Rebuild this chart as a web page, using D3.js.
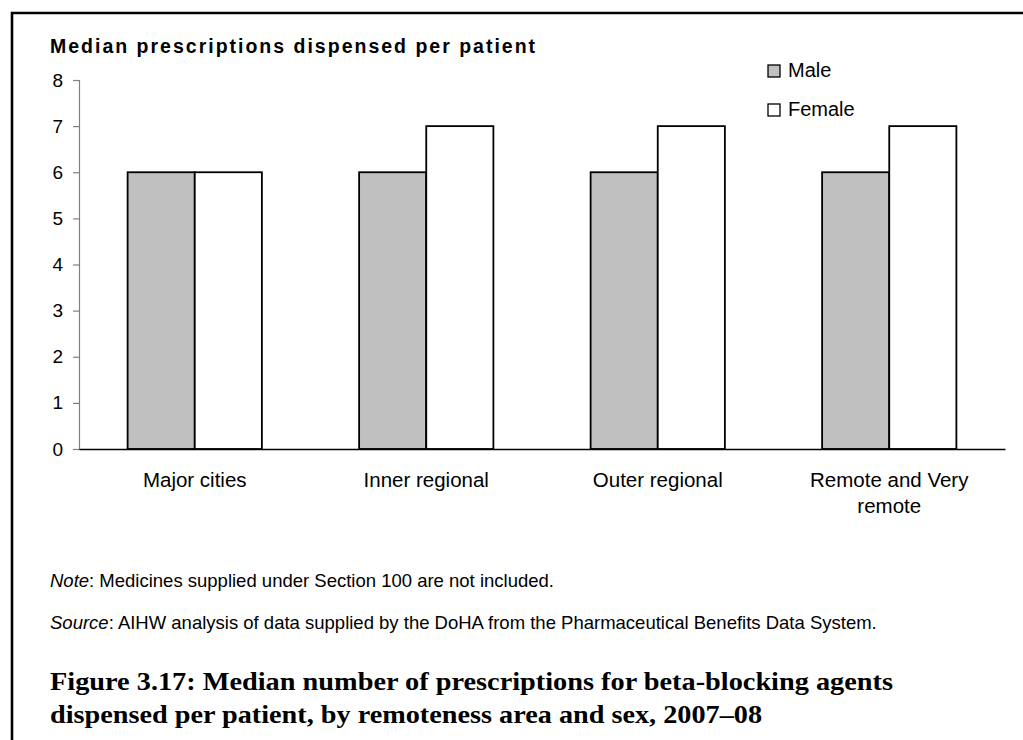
<!DOCTYPE html>
<html>
<head>
<meta charset="utf-8">
<script src="https://cdn.jsdelivr.net/npm/d3@7"></script>
<style>
  body { margin: 0; background: #fff; }
  svg { display: block; }
</style>
</head>
<body>
<svg width="1023" height="740"></svg>
<script>
const categories = ["Major cities", "Inner regional", "Outer regional", "Remote and Very remote"];
const seriesNames = ["Male", "Female"];
const maleValues = [6, 6, 6, 6];
const femaleValues = [6, 7, 7, 7];
const yTicks = [0, 1, 2, 3, 4, 5, 6, 7, 8];

const layout = {
  left: 79,
  right: 1005,
  top: 80,
  bottom: 449
};
const colors = { Male: "#c0c0c0", Female: "#ffffff" };
const sans = "Liberation Sans, Arial, sans-serif";

const svg = d3.select("svg");

// page frame (only top and left edges show)
svg.append("path")
  .attr("d", "M12,740 L12,13 L1023,13")
  .attr("fill", "none")
  .attr("stroke", "#000")
  .attr("stroke-width", 2.6);

const rows = categories.map((c, i) => ({ category: c, Male: maleValues[i], Female: femaleValues[i] }));

const x0 = d3.scaleBand()
  .domain(categories)
  .range([layout.left, layout.right])
  .paddingInner(0.42)
  .paddingOuter(0.21);

const x1 = d3.scaleBand()
  .domain(seriesNames)
  .range([0, x0.bandwidth()]);

const y = d3.scaleLinear()
  .domain([0, 8])
  .range([layout.bottom, layout.top]);

// chart title
svg.append("text")
  .attr("x", 50)
  .attr("y", 53)
  .attr("font-family", sans)
  .attr("font-weight", "bold")
  .attr("font-size", 19.5)
  .attr("letter-spacing", 2)
  .text("Median prescriptions dispensed per patient");

// y axis
const yAxis = svg.append("g")
  .attr("transform", `translate(${layout.left},0)`)
  .call(d3.axisLeft(y).tickValues(yTicks).tickSize(6).tickPadding(10).tickFormat(d3.format("d")));
yAxis.select(".domain").attr("stroke", "#808080").attr("stroke-width", 1.2);
yAxis.selectAll(".tick line").attr("stroke", "#808080").attr("stroke-width", 1.2);
yAxis.selectAll(".tick text")
  .attr("font-family", sans)
  .attr("font-size", 19)
  .attr("fill", "#000");

// bars
const groups = svg.append("g")
  .selectAll("g")
  .data(rows)
  .join("g")
  .attr("transform", d => `translate(${x0(d.category)},0)`);

groups.selectAll("rect")
  .data(d => seriesNames.map(s => ({ key: s, value: d[s] })))
  .join("rect")
  .attr("x", d => x1(d.key))
  .attr("y", d => y(d.value))
  .attr("width", x1.bandwidth())
  .attr("height", d => y(0) - y(d.value))
  .attr("fill", d => colors[d.key])
  .attr("stroke", "#000")
  .attr("stroke-width", 1.8);

// x axis
const xAxis = svg.append("g")
  .attr("transform", `translate(0,${layout.bottom})`)
  .call(d3.axisBottom(x0).tickSize(0).tickPadding(0).tickFormat(""));
xAxis.select(".domain").attr("stroke", "#000").attr("stroke-width", 1.5);

const catLabels = svg.append("g")
  .attr("font-family", sans)
  .attr("font-size", 20.5)
  .attr("text-anchor", "middle");
const wrapLines = { "Remote and Very remote": ["Remote and Very", "remote"] };
categories.forEach(c => {
  const lines = wrapLines[c] || [c];
  const cx = x0(c) + x0.bandwidth() / 2;
  const t = catLabels.append("text").attr("x", cx).attr("y", 487);
  lines.forEach((line, i) => {
    t.append("tspan")
      .attr("x", cx)
      .attr("dy", i === 0 ? 0 : 26)
      .text(line);
  });
});

// legend
const legend = svg.append("g")
  .attr("font-family", sans)
  .attr("font-size", 20);
seriesNames.forEach((s, i) => {
  const g = legend.append("g").attr("transform", `translate(768,${65 + i * 39})`);
  g.append("rect")
    .attr("width", 12)
    .attr("height", 12)
    .attr("fill", colors[s])
    .attr("stroke", "#000")
    .attr("stroke-width", 1.3);
  g.append("text")
    .attr("x", 20)
    .attr("y", 12)
    .text(s);
});

// note and source
const notes = svg.append("g")
  .attr("font-family", sans)
  .attr("font-size", 18.5)
  .attr("fill", "#000");
const note = notes.append("text").attr("x", 50).attr("y", 587);
note.append("tspan").attr("font-style", "italic").text("Note");
note.append("tspan").text(": Medicines supplied under Section 100 are not included.");
const source = notes.append("text").attr("x", 50).attr("y", 629);
source.append("tspan").attr("font-style", "italic").text("Source");
source.append("tspan").text(": AIHW analysis of data supplied by the DoHA from the Pharmaceutical Benefits Data System.");

// figure caption
const caption = svg.append("g")
  .attr("font-family", "Liberation Serif, Times New Roman, serif")
  .attr("font-weight", "bold")
  .attr("font-size", 24.5)
  .attr("fill", "#000");
caption.append("text").attr("x", 50).attr("y", 690)
  .attr("textLength", 843).attr("lengthAdjust", "spacingAndGlyphs")
  .text("Figure 3.17: Median number of prescriptions for beta-blocking agents");
caption.append("text").attr("x", 50).attr("y", 723)
  .attr("textLength", 712).attr("lengthAdjust", "spacingAndGlyphs")
  .text("dispensed per patient, by remoteness area and sex, 2007–08");
</script>
</body>
</html>
